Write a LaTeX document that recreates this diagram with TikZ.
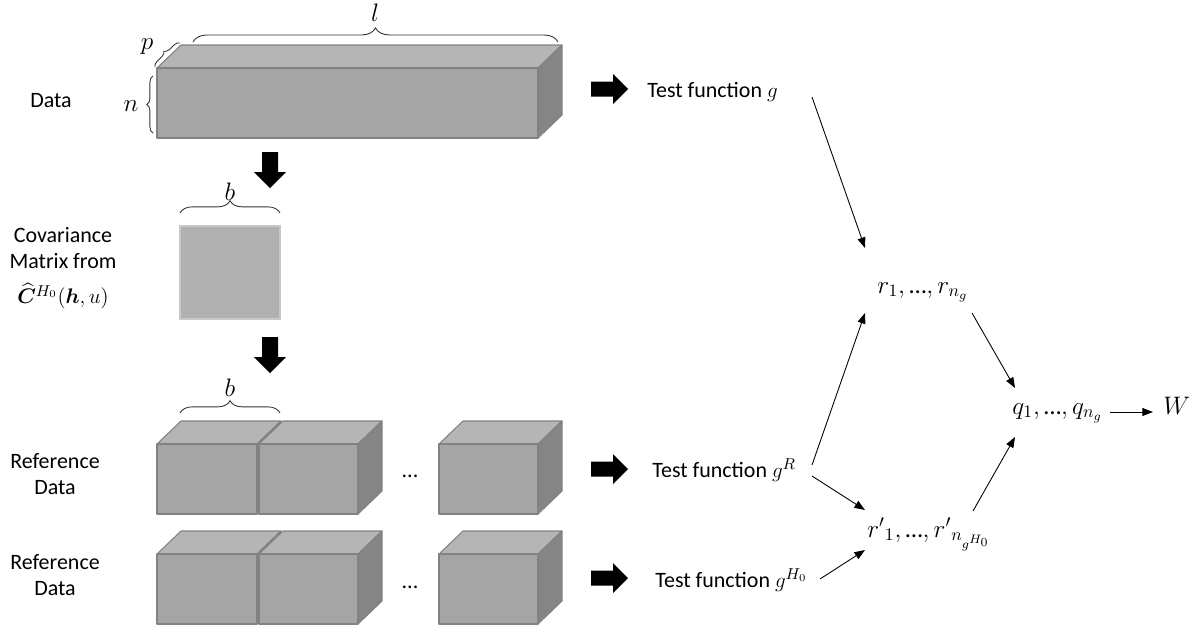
\documentclass[tikz,border=0pt]{standalone}
\usepackage{fontspec}
\setmainfont{Carlito}
\usepackage{amsmath,bm}
\usetikzlibrary{arrows.meta,decorations.pathreplacing}

\definecolor{frontgray}{RGB}{165,165,165}
\definecolor{topgray}{RGB}{181,181,181}
\definecolor{sidegray}{RGB}{133,133,133}
\definecolor{edgegray}{RGB}{130,130,130}
\definecolor{covgray}{RGB}{176,176,176}
\definecolor{covedge}{RGB}{200,200,200}

% cuboid: left, top, right, bottom of the front face (px)
\newcommand{\cuboid}[4]{%
  \filldraw[boxedge, fill=topgray] (#1,#2) -- (#1+24,#2-23) -- (#3+24,#2-23) -- (#3,#2) -- cycle;
  \filldraw[boxedge, fill=sidegray] (#3,#2) -- (#3+24,#2-23) -- (#3+24,#4-23) -- (#3,#4) -- cycle;
  \filldraw[boxedge, fill=frontgray] (#1,#2) rectangle (#3,#4);
}
% block arrows: tail point (x, y)
\newcommand{\fatright}[2]{\fill (#1,#2-7.5) -- ++(22,0) -- ++(0,-7.5) -- ++(15,15) -- ++(-15,15) -- ++(0,-7.5) -- ++(-22,0) -- cycle;}
\newcommand{\fatdown}[3]{\fill (#1-8,#2) -- ++(0,#3) -- ++(-8,0) -- ++(16,16) -- ++(16,-16) -- ++(-8,0) -- ++(0,-#3) -- cycle;}
% tight ellipsis from the text font
\newcommand{\tdots}{\text{…}}

\begin{document}
\begin{tikzpicture}[
    x=0.02cm, y=-0.02cm,
    every node/.style={font=\fontsize{12.5}{15}\selectfont, inner sep=0pt},
    mathlbl/.style={font=\fontsize{14}{16}\selectfont},
    boxedge/.style={draw=edgegray, line width=0.6pt, line join=round},
    flow/.style={-{Triangle[length=6pt,width=4.5pt]}, line width=0.5pt},
    bracket/.style={decorate, decoration={brace, amplitude=#1}, line width=0.5pt, draw=black!80},
    bracket/.default=7pt
]
\useasboundingbox (0,0) rectangle (1193,630);

% === Data block ===
\node (datalbl) at (51,101) {Data};
\cuboid{157}{68}{538}{138}

% dimensions
\draw[bracket=8pt] (193,42) -- (558,42);
\node[mathlbl] (lbll) at (375,13) {$l$};
\draw[bracket=3pt] (155,67) -- (180,43);
\node[mathlbl] (lblp) at (147,47) {$p$};
\draw[bracket=3.5pt] (153,133) -- (153,76);
\node[mathlbl] (lbln) at (131,106) {$n$};

\fatdown{270}{152}{20}
\fatright{591}{89}
\node[anchor=base west] (testg) at (647,97) {Test function $g$};

% === Covariance matrix ===
\node[align=center, font=\fontsize{12.5}{15}\selectfont] (covlbl) at (63,268) {Covariance\\Matrix from\\[5pt]$\widehat{\bm{C}}^{H_0}(\bm{h},u)$};
\filldraw[draw=covedge, fill=covgray, line width=0.6pt] (180,226) rectangle (280,319);
\draw[bracket] (180,213) -- (280,213);
\node[mathlbl] (lblb1) at (230,192) {$b$};

\fatdown{270}{337}{20}

% === Reference data rows ===
\draw[bracket] (180,413) -- (280,413);
\node[mathlbl] (lblb2) at (230,388) {$b$};

\foreach \row in {444,554}{
  \cuboid{157}{\row}{257}{\row+70}
  \cuboid{259}{\row}{358}{\row+70}
  \cuboid{439}{\row}{538}{\row+70}
}
\node (refdata1) [align=center] at (55,474) {Reference\\Data};
\node (refdata2) [align=center] at (55,575) {Reference\\Data};
\node (dots1) at (410,476) {...};
\node (dots2) at (410,587) {...};

\fatright{591}{469}
\fatright{591}{578}
\node[anchor=base west] (testgR) at (652,477) {Test function $g^R$};
\node[anchor=base west] (testgH) at (655,587) {Test function $g^{H_0}$};

% === Statistics ===
\node[mathlbl, anchor=base west] (rnode) at (877,293) {$r_1, \tdots, r_{n_g}$};
\node[mathlbl, anchor=base west] (rpnode) at (867,537) {${r'}_1, \tdots, {r'}_{n_{g^{H_0}}}$};
\node[mathlbl, anchor=base west] (qnode) at (1012,414) {$q_1, \tdots, q_{n_g}$};
\node[mathlbl, anchor=base west] (wnode) at (1163,414) {$W$};

\draw[flow] ([shift={(165,0)}]testg.base west) -- ([shift={(-12,-45)}]rnode.base west);
\draw[flow] ([shift={(160,-12)}]testgR.base west) -- ([shift={(-12,20)}]rnode.base west);
\draw[flow] ([shift={(160,-1)}]testgR.base west) -- ([shift={(-2,-27)}]rpnode.base west);
\draw[flow] ([shift={(165,-8)}]testgH.base west) -- ([shift={(-2,13)}]rpnode.base west);
\draw[flow] ([shift={(95,20)}]rnode.base west) -- ([shift={(3,-26)}]qnode.base west);
\draw[flow] ([shift={(106,-26)}]rpnode.base west) -- ([shift={(3,23)}]qnode.base west);
\draw[flow] ([shift={(98,-2)}]qnode.base west) -- ([shift={(-10,-2)}]wnode.base west);

\end{tikzpicture}
\end{document}
